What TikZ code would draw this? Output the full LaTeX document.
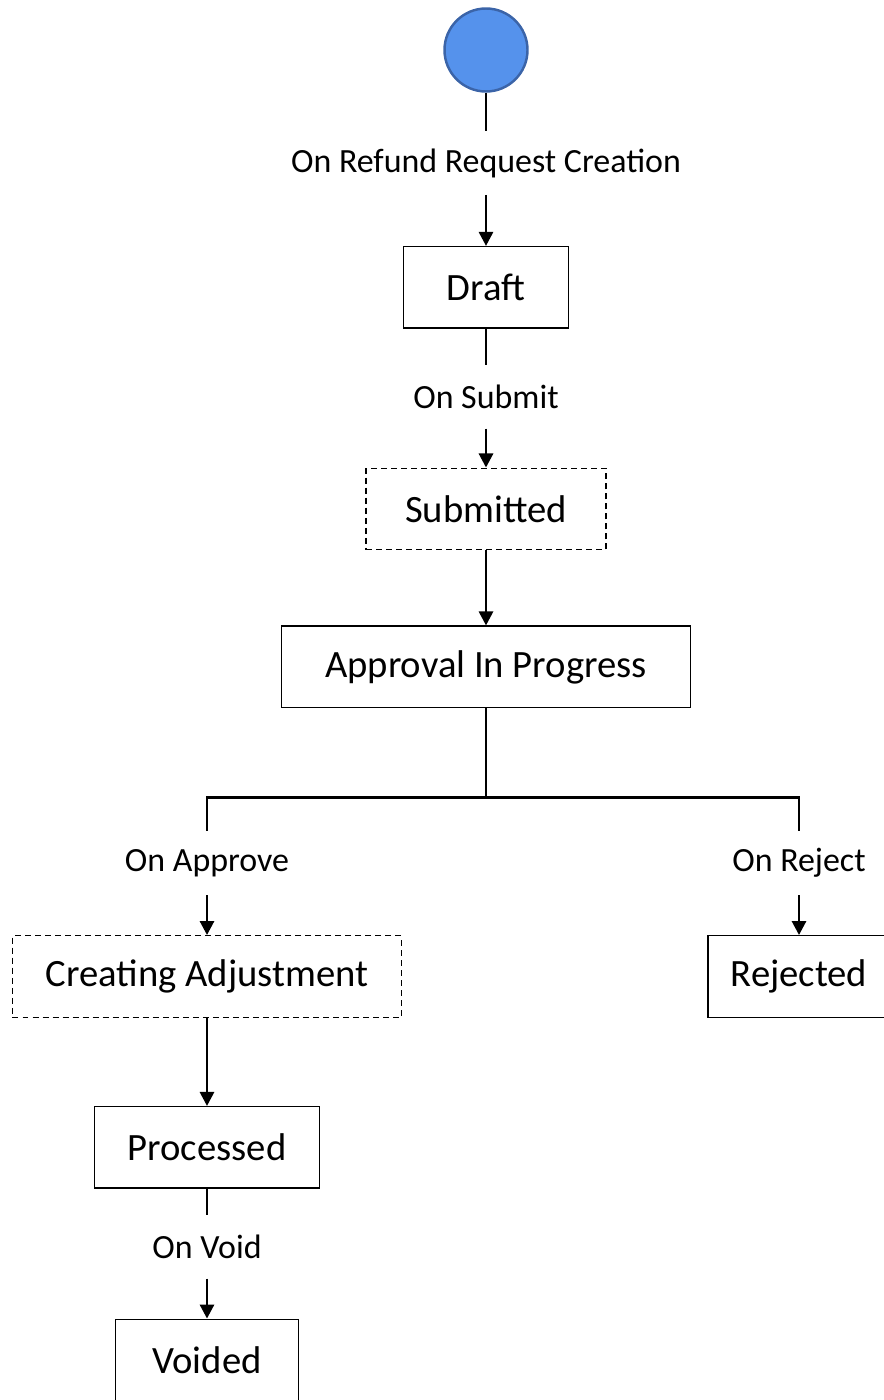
\documentclass[tikz,border=0pt]{standalone}
\usepackage{fontspec}
\setmainfont{Carlito}
\usetikzlibrary{arrows.meta, positioning}

\definecolor{startblue}{HTML}{5592EC}
\definecolor{startrim}{HTML}{3B64A8}

\begin{document}
\begin{tikzpicture}[
box/.style={draw, line width=0.8pt, rectangle, align=center, minimum height=1.63cm, inner sep=0pt, font=\fontsize{22}{26}\selectfont},
dashbox/.style={box, dash pattern=on 3.4pt off 2.3pt},
tag/.style={minimum height=1.26cm, inner sep=0pt, font=\fontsize{19.3}{23}\selectfont},
line/.style={line width=1.6pt},
arrow/.style={line, -{Triangle[length=8pt, width=8pt]}}
]
\useasboundingbox (0,0) rectangle (17.66,-28);

\node[circle, draw=startrim, fill=startblue, line width=1.4pt, minimum size=1.66cm] (start) at (9.72,-1.0) {};

\node[tag, below=0.77cm of start] (refundTag)
{On Refund Request Creation};

\node[box, minimum width=3.3cm, below=1.02cm of refundTag] (draft)
{Draft};

\node[tag, below=0.72cm of draft] (submitTag)
{On Submit};

\node[dashbox, minimum width=4.8cm, below=0.78cm of submitTag] (submitted)
{Submitted};

\node[box, minimum width=8.18cm, below=1.5cm of submitted] (approval)
{Approval In Progress};

\coordinate[below=1.78cm of approval] (split);

\node[tag, below=0.68cm of split, xshift=-5.58cm] (approveTag)
{On Approve};

\node[tag, below=0.68cm of split, xshift=6.26cm] (rejectTag)
{On Reject};

\node[dashbox, minimum width=7.78cm, below=0.8cm of approveTag] (creating)
{Creating Adjustment};

\node[box, minimum width=3.64cm, below=0.8cm of rejectTag] (rejected)
{Rejected};

\node[box, minimum width=4.5cm, below=1.76cm of creating] (processed)
{Processed};

\node[tag, below=0.52cm of processed] (voidTag)
{On Void};

\node[box, minimum width=3.66cm, below=0.8cm of voidTag] (voided)
{Voided};

\draw[line] (start) -- (refundTag);
\draw[arrow] (refundTag) -- (draft);
\draw[line] (draft) -- (submitTag);
\draw[arrow] (submitTag) -- (submitted);
\draw[arrow] (submitted) -- (approval);
\draw[line] (approval) -- (split);
\draw[line] (split) -| (approveTag);
\draw[line] (split) -| (rejectTag);
\draw[arrow] (approveTag) -- (creating);
\draw[arrow] (rejectTag) -- (rejected);
\draw[arrow] (creating) -- (processed);
\draw[line] (processed) -- (voidTag);
\draw[arrow] (voidTag) -- (voided);

\end{tikzpicture}
\end{document}
